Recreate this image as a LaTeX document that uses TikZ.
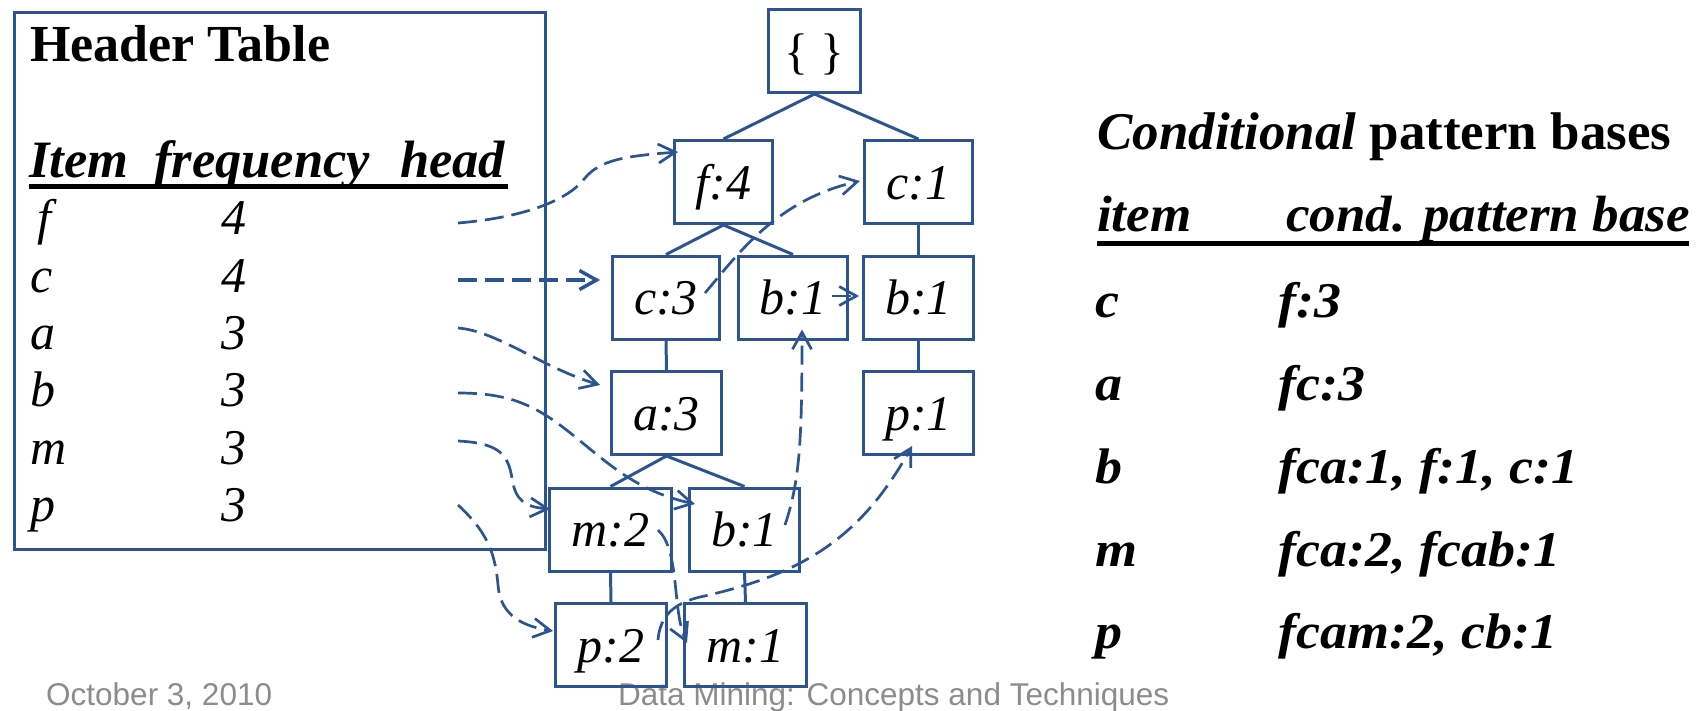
\documentclass[tikz,border=0pt]{standalone}
\usepackage{fontspec}
\setmainfont{Liberation Serif}
\newfontfamily\footfont{Liberation Sans}
\newfontfamily\rowfont[FakeStretch=1.08]{Liberation Serif}
\newfontfamily\colfont[FakeStretch=1.04]{Liberation Serif}
\usetikzlibrary{arrows.meta,calc}
\definecolor{treeblue}{RGB}{44,84,146}
\definecolor{footgray}{RGB}{140,140,140}
\begin{document}
\begin{tikzpicture}[x=1pt,y=-1pt,
  tnode/.style={draw=treeblue, line width=3pt, minimum height=83pt, inner sep=0pt,
    font=\fontsize{50}{56}\selectfont\itshape, text height=34pt, text depth=0pt},
  edge/.style={draw=treeblue, line width=3pt},
  link/.style={draw=treeblue, line width=2.7pt, dash pattern=on 19pt off 8pt,
    -{Straight Barb[length=17pt,width=19pt]}},
  txt/.style={anchor=base west, inner sep=0pt},
  hdr/.style={txt, font=\fontsize{52}{56}\selectfont\bfseries},
  hcol/.style={txt, font=\fontsize{52.5}{58}\selectfont\bfseries\itshape},
  hrow/.style={txt, font=\fontsize{50}{56}\selectfont\itshape},
  ccol/.style={txt, font=\colfont\fontsize{51}{58}\selectfont\bfseries\itshape},
  crow/.style={txt, font=\rowfont\fontsize{50}{56}\selectfont\bfseries\itshape},
  foot/.style={txt, font=\footfont\fontsize{31.5}{36}\selectfont, text=footgray}
]
\useasboundingbox (0,0) rectangle (1700,710);

% footer (behind)
\node[foot] (date) at (46,705) {October 3, 2010};
\node[foot] (title) at (618,705) {Data Mining: Concepts and Techniques};

% header table
\node[draw=treeblue, line width=3pt, minimum width=531pt, minimum height=537pt,
      inner sep=0pt, anchor=north west] (header) at (12.5,10.5) {};
\node[hdr] (htitle) at (30,61) {Header Table};
\node[hcol] (hcol1) at (29,177) {Item};
\node[hcol] (hcol2) at (154,177) {frequency};
\node[hcol] (hcol3) at (400,177) {head};
\draw[line width=5pt] (29,186) -- (508,186);
\node[hrow] (lf) at (37,234) {f};
\node[hrow] (lc) at (30,292) {c};
\node[hrow] (la) at (30,349) {a};
\node[hrow] (lb) at (30,406) {b};
\node[hrow] (lm) at (30,464) {m};
\node[hrow] (lp) at (30,521) {p};
\node[hrow] (nf) at (221,234) {4};
\node[hrow] (nc) at (221,292) {4};
\node[hrow] (na) at (221,349) {3};
\node[hrow] (nb) at (221,406) {3};
\node[hrow] (nm) at (221,464) {3};
\node[hrow] (np) at (221,521) {3};
\coordinate (hf) at (458,223);
\coordinate (hc) at (458,280);
\coordinate (ha) at (458,328);
\coordinate (hb) at (458,393);
\coordinate (hm) at (458,441);
\coordinate (hp) at (458,505);

% tree
\node[tnode, minimum width=92pt] (root) at (814.5,51) {\upshape\{ \}};
\node[tnode, minimum width=98pt] (f4) at (723.5,182) {f:4};
\node[tnode, minimum width=108pt] (c1) at (918.5,182) {c:1};
\node[tnode, minimum width=107pt] (c3) at (666,297.5) {c:3};
\node[tnode, minimum width=109pt] (b1m) at (793,297.5) {b:1};
\node[tnode, minimum width=110pt] (b1r) at (918.5,297.5) {b:1};
\node[tnode, minimum width=110pt] (a3) at (666.5,413) {a:3};
\node[tnode, minimum width=110pt] (p1) at (918.5,413) {p:1};
\node[tnode, minimum width=122pt] (m2) at (610.5,529.5) {m:2};
\node[tnode, minimum width=110pt] (b1l) at (744.5,529.5) {b:1};
\node[tnode, minimum width=111pt] (p2) at (611,645) {p:2};
\node[tnode, minimum width=122pt] (m1) at (745.5,645) {m:1};

\draw[edge] (root.south) -- (f4.north);
\draw[edge] (root.south) -- (c1.north);
\draw[edge] (f4.south) -- (c3.north);
\draw[edge] (f4.south) -- (b1m.north);
\draw[edge] (c1.south) -- (b1r.north);
\draw[edge] (c3.south) -- (a3.north);
\draw[edge] (b1r.south) -- (p1.north);
\draw[edge] (a3.south) -- (m2.north);
\draw[edge] (a3.south) -- (b1l.north);
\draw[edge] (m2.south) -- (p2.north);
\draw[edge] (b1l.south) -- (m1.north);

% node links
\draw[link] (hf) .. controls (530,217) and (570,198) .. (585,178)
  .. controls (600,160) and (625,156) .. ($(f4.north west)+(5,13)$);
\draw[link, line width=3.5pt] (hc) -- ($(c3.west)+(-11,-17.5)$);
\draw[link] (ha) .. controls (497,331) and (543,368) .. ($(a3.west)+(-10,-28)$);
\draw[link] (hb) .. controls (505,393) and (530,403) .. (560,425)
  .. controls (600,455) and (630,490) .. ($(b1l.west)+(7,-25.5)$);
\draw[link] ($(b1l.center)+(40.5,-4.5)$) .. controls (800,480) and (802,440) .. ($(b1m.south)+(9,-11)$);
\draw[link] ($(b1m.east)+(-17,-1.5)$) -- ($(b1r.west)+(-3,-1.5)$);
\draw[link] ($(c3.center)+(39,-4.5)$) .. controls (735,258) and (775,200) .. ($(c1.west)+(-3,-1)$);
\draw[link] (hm) .. controls (500,443) and (508,455) .. (512,478)
  .. controls (515,500) and (525,507) .. ($(m2.west)+(2,-20.5)$);
\draw[link] ($(m2.center)+(47.5,0.5)$) .. controls (680,550) and (672,610) .. ($(m1.west)+(4,-2)$);
\draw[link] (hp) .. controls (485,530) and (495,550) .. (498,585)
  .. controls (500,610) and (515,625) .. ($(p2.west)+(-1,-14)$);
\draw[link] ($(p2.center)+(47,-5)$) .. controls (660,615) and (675,603) .. (700,597)
  .. controls (800,575) and (860,540) .. ($(p1.south)+(-6.5,-10)$);

% conditional pattern bases
\node[txt, font=\fontsize{53}{58}\selectfont\bfseries] (ctitle) at (1097,149)
  {\textit{Conditional} pattern bases};
\node[ccol] (citem) at (1097,231) {item};
\node[ccol] (cbase) at (1286,231) {cond. pattern base};
\draw[line width=5pt] (1097,243) -- (1689,243);
\node[crow] (ic) at (1095,317) {c};
\node[crow] (ia) at (1095,400) {a};
\node[crow] (ib) at (1095,483) {b};
\node[crow] (im) at (1095,566) {m};
\node[crow] (ip) at (1095,648) {p};
\node[crow] (bc) at (1278,317) {f:3};
\node[crow] (ba) at (1278,400) {fc:3};
\node[crow] (bb) at (1278,483) {fca:1, f:1, c:1};
\node[crow] (bm) at (1278,566) {fca:2, fcab:1};
\node[crow] (bp) at (1278,648) {fcam:2, cb:1};
\end{tikzpicture}
\end{document}
